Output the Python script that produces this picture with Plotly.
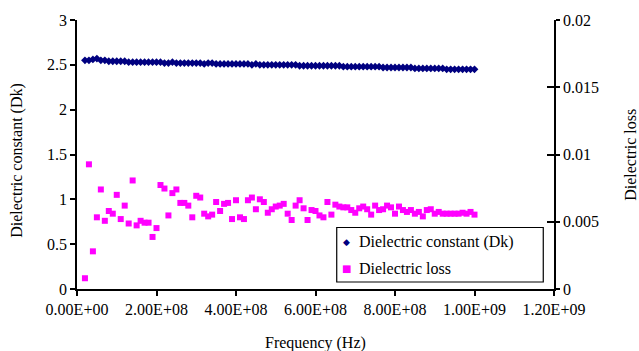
import plotly.graph_objects as go

# Frequency sweep (Hz)
freq_mhz = [20, 30, 40, 50, 60, 70, 80, 90, 100, 110,
            120, 130, 140, 150, 160, 170, 180, 190, 200, 210,
            220, 230, 240, 250, 260, 270, 280, 290, 300, 310,
            320, 330, 340, 350, 360, 370, 380, 390, 400, 410,
            420, 430, 440, 450, 460, 470, 480, 490, 500, 510,
            520, 530, 540, 550, 560, 570, 580, 590, 600, 610,
            620, 630, 640, 650, 660, 670, 680, 690, 700, 710,
            720, 730, 740, 750, 760, 770, 780, 790, 800, 810,
            820, 830, 840, 850, 860, 870, 880, 890, 900, 910,
            920, 930, 940, 950, 960, 970, 980, 990, 1000]
freq_hz = [f * 1e6 for f in freq_mhz]

dk = [2.55, 2.55, 2.56, 2.57, 2.55, 2.55, 2.54, 2.54, 2.54, 2.54,
      2.54, 2.53, 2.53, 2.53, 2.53, 2.53, 2.53, 2.53, 2.53, 2.53,
      2.52, 2.52, 2.53, 2.52, 2.52, 2.52, 2.52, 2.52, 2.52, 2.52,
      2.51, 2.52, 2.52, 2.51, 2.51, 2.51, 2.51, 2.51, 2.51, 2.51,
      2.51, 2.51, 2.50, 2.51, 2.50, 2.50, 2.50, 2.50, 2.50, 2.50,
      2.50, 2.50, 2.50, 2.50, 2.49, 2.49, 2.49, 2.49, 2.49, 2.49,
      2.49, 2.49, 2.49, 2.49, 2.49, 2.48, 2.48, 2.48, 2.48, 2.48,
      2.48, 2.48, 2.48, 2.48, 2.48, 2.47, 2.47, 2.47, 2.47, 2.47,
      2.47, 2.47, 2.47, 2.46, 2.46, 2.46, 2.46, 2.46, 2.46, 2.46,
      2.46, 2.45, 2.45, 2.45, 2.45, 2.45, 2.45, 2.45, 2.45]

loss = [0.0008, 0.00927, 0.0028, 0.00533, 0.0074, 0.00507, 0.0058, 0.0056, 0.0070, 0.0052,
        0.0062, 0.00487, 0.00807, 0.00473, 0.00507, 0.00493, 0.00493, 0.00387, 0.00453, 0.00773,
        0.00747, 0.00547, 0.00713, 0.0074, 0.0064, 0.0064, 0.0062, 0.00533, 0.00693, 0.0068,
        0.0056, 0.0054, 0.00553, 0.00647, 0.0058, 0.00633, 0.0064, 0.0052, 0.0066, 0.00533,
        0.0052, 0.0066, 0.0068, 0.00593, 0.00667, 0.00647, 0.00567, 0.00593, 0.00613, 0.0062,
        0.00633, 0.0056, 0.00513, 0.0062, 0.0066, 0.0060, 0.00513, 0.00587, 0.0058, 0.00547,
        0.00533, 0.00647, 0.00553, 0.00627, 0.00613, 0.00607, 0.00607, 0.00587, 0.00567, 0.0060,
        0.00613, 0.00593, 0.00553, 0.0062, 0.00587, 0.00593, 0.0062, 0.00607, 0.0056, 0.00613,
        0.00587, 0.00573, 0.00587, 0.0056, 0.00573, 0.0054, 0.00587, 0.00593, 0.0056, 0.00573,
        0.0056, 0.0056, 0.0056, 0.0056, 0.0056, 0.00567, 0.0056, 0.00573, 0.00553]

series_names = ["Dielectric constant (Dk)", "Dielectric loss"]
series_colors = ["#000080", "#FF00FF"]

x_tickvals = [0, 2e8, 4e8, 6e8, 8e8, 1e9, 1.2e9]
x_ticktext = ["0.00E+00", "2.00E+08", "4.00E+08", "6.00E+08", "8.00E+08", "1.00E+09", "1.20E+09"]
y_tickvals = [0, 0.5, 1, 1.5, 2, 2.5, 3]
y_ticktext = ["0", "0.5", "1", "1.5", "2", "2.5", "3"]
y2_tickvals = [0, 0.005, 0.01, 0.015, 0.02]
y2_ticktext = ["0", "0.005", "0.01", "0.015", "0.02"]

FONT = "Liberation Serif"

fig = go.Figure()
fig.add_trace(go.Scatter(x=freq_hz, y=dk, mode="markers", name=series_names[0],
                         marker=dict(symbol="diamond", size=6, color=series_colors[0]),
                         yaxis="y"))
fig.add_trace(go.Scatter(x=freq_hz, y=loss, mode="markers", name=series_names[1],
                         marker=dict(symbol="square", size=6, color=series_colors[1]),
                         yaxis="y2"))
# empty trace carrying the inner ticks of the right axis
fig.add_trace(go.Scatter(x=[], y=[], yaxis="y3", showlegend=False))

axis_common = dict(showgrid=False, zeroline=False, showline=True, linecolor="black",
                   linewidth=1.5, tickcolor="black", tickwidth=1.5,
                   tickfont=dict(family=FONT, size=16, color="black"))

fig.update_layout(
    width=639, height=351,
    margin=dict(l=77, r=85, t=20, b=62),
    paper_bgcolor="white", plot_bgcolor="white",
    font=dict(family=FONT, size=16, color="black"),
    showlegend=False,
    xaxis=dict(range=[0, 1.2e9], tickvals=x_tickvals, ticktext=x_ticktext,
               ticks="outside", ticklen=5, **axis_common),
    yaxis=dict(range=[0, 3], tickvals=y_tickvals, ticktext=y_ticktext,
               ticks="outside", ticklen=5, **axis_common),
    yaxis2=dict(range=[0, 0.02], tickvals=y2_tickvals, ticktext=y2_ticktext,
                overlaying="y", side="right", anchor="x",
                ticks="outside", ticklen=4, **axis_common),
    yaxis3=dict(range=[0, 0.02], tickvals=y2_tickvals, overlaying="y", side="right", anchor="x",
                showgrid=False, zeroline=False, showline=False, showticklabels=False,
                ticks="inside", ticklen=7, tickcolor="black", tickwidth=1.5),
    shapes=[
        dict(type="rect", xref="paper", yref="paper", x0=0.5445, x1=0.9775, y0=0.026, y1=0.2286,
             line=dict(color="black", width=1.2), fillcolor="white", layer="above"),
    ],
    annotations=[
        dict(text="Frequency (Hz)", xref="paper", yref="paper", x=0.5, y=-0.2,
             xanchor="center", yanchor="middle", showarrow=False, font=dict(family=FONT, size=16)),
        dict(text="Dielectric constant (Dk)", xref="paper", yref="paper", x=-0.126, y=0.48,
             xanchor="center", yanchor="middle", textangle=-90, showarrow=False,
             font=dict(family=FONT, size=16)),
        dict(text="Dielectric loss", xref="paper", yref="paper", x=1.16, y=0.5,
             xanchor="center", yanchor="middle", textangle=-90, showarrow=False,
             font=dict(family=FONT, size=16)),
        # legend
        dict(text="◆", xref="paper", yref="paper", x=0.5654, y=0.1758,
             xanchor="center", yanchor="middle", showarrow=False,
             font=dict(family="DejaVu Sans", size=9, color=series_colors[0])),
        dict(text=series_names[0], xref="paper", yref="paper", x=0.587, y=0.1758,
             xanchor="left", yanchor="middle", showarrow=False, font=dict(family=FONT, size=16)),
        dict(text="■", xref="paper", yref="paper", x=0.5654, y=0.077,
             xanchor="center", yanchor="middle", showarrow=False,
             font=dict(family="DejaVu Sans", size=10, color=series_colors[1])),
        dict(text=series_names[1], xref="paper", yref="paper", x=0.587, y=0.077,
             xanchor="left", yanchor="middle", showarrow=False, font=dict(family=FONT, size=16)),
    ],
)

fig.write_html("out.html")
